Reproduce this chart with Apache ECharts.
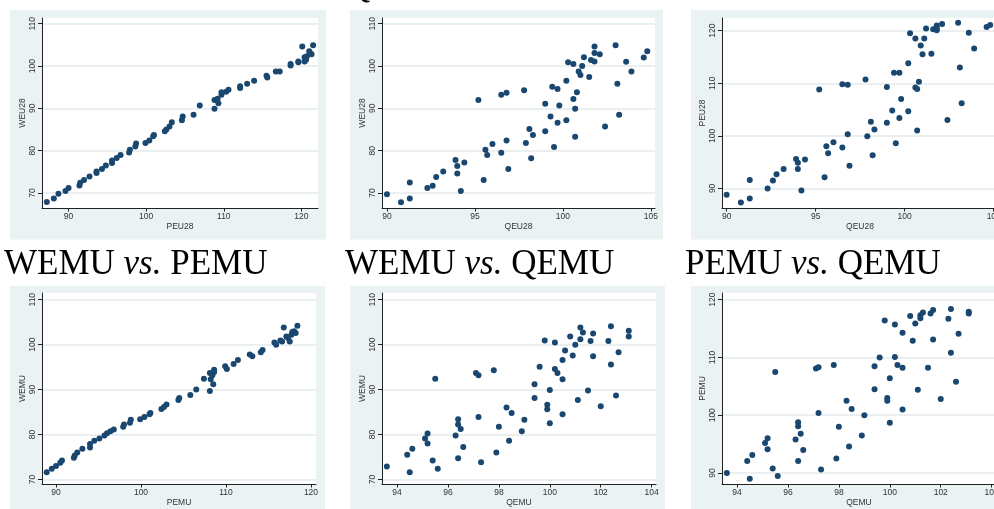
<!DOCTYPE html>
<html><head><meta charset="utf-8">
<script src="https://cdn.jsdelivr.net/npm/echarts@6/dist/echarts.min.js"></script>
<style>html,body{margin:0;padding:0;background:#fff}#c{width:994px;height:509px}</style>
</head><body><div id="c"></div>
<script>
// ---- data: [x, y] pairs ----
const weu28_vs_peu28 = [[87.2,67.9],[88.1,68.7],[88.7,69.8],[89.6,70.5],[90.0,71.2],[91.4,71.8],[91.5,72.4],[92.0,73.1],[92.7,73.9],[93.6,74.7],[93.6,75.1],[94.3,75.7],[94.8,76.5],[95.6,77.1],[95.6,77.7],[96.2,78.3],[96.7,79.0],[97.8,79.6],[97.9,80.2],[98.6,81.0],[98.7,81.7],[99.9,81.8],[100.4,82.4],[100.9,83.4],[101.0,83.7],[102.4,84.6],[102.6,85.0],[103.0,85.7],[103.3,86.7],[104.6,87.2],[104.7,88.1],[106.1,88.5],[106.9,90.7],[108.8,92.0],[109.2,92.3],[109.3,91.2],[108.8,89.9],[109.7,93.2],[109.7,93.8],[110.3,93.9],[110.6,94.4],[112.1,94.8],[112.1,95.2],[113.0,95.8],[113.9,96.5],[115.5,97.7],[115.6,97.3],[116.7,98.7],[117.2,98.7],[118.6,100.5],[118.6,100.1],[119.6,100.9],[119.6,101.1],[120.1,104.6],[120.4,101.1],[120.4,102.1],[120.6,101.5],[120.7,102.3],[121.0,103.5],[121.1,103.1],[121.3,102.8],[121.5,104.9]];
const weu28_vs_qeu28 = [[90.0,69.7],[90.8,67.8],[91.3,72.5],[91.3,68.7],[92.3,71.2],[92.6,71.7],[92.8,73.8],[93.2,75.1],[93.9,77.8],[94.0,76.4],[94.0,74.6],[94.4,77.2],[94.2,70.5],[95.2,92.0],[95.5,73.1],[95.6,80.2],[95.7,79.0],[96.0,81.6],[96.5,79.5],[96.5,93.2],[96.8,93.7],[96.8,82.4],[96.9,75.7],[97.8,94.3],[97.9,81.8],[98.1,85.1],[98.2,78.2],[98.3,83.7],[99.0,91.1],[99.0,84.6],[99.3,88.1],[99.4,95.1],[99.5,80.9],[99.7,94.6],[99.7,86.6],[99.8,90.7],[100.2,96.5],[100.2,87.2],[100.3,100.9],[100.6,100.5],[100.6,92.2],[100.7,89.9],[100.7,83.3],[100.8,93.8],[100.9,98.7],[101.0,97.9],[101.1,100.0],[101.2,102.1],[101.5,97.4],[101.6,101.4],[101.8,104.6],[101.8,103.1],[101.8,101.1],[102.1,102.8],[102.4,85.7],[103.0,104.9],[103.1,95.8],[103.2,88.5],[103.6,101.0],[103.9,98.7],[104.6,102.0],[104.8,103.5]];
const peu28_vs_qeu28 = [[90.0,88.8],[90.8,87.3],[91.3,91.6],[91.3,88.1],[92.3,90.0],[92.6,91.5],[92.8,92.7],[93.2,93.7],[93.9,95.6],[94.0,94.9],[94.0,93.7],[94.2,89.6],[94.4,95.5],[95.2,108.8],[95.5,92.1],[95.6,98.0],[95.7,96.7],[96.0,98.8],[96.5,109.8],[96.5,97.8],[96.8,109.7],[96.8,100.3],[96.9,94.3],[97.8,110.7],[97.9,99.9],[98.1,102.7],[98.2,96.3],[98.3,101.2],[99.0,109.3],[99.0,102.5],[99.3,104.8],[99.4,112.0],[99.5,98.6],[99.7,112.0],[99.7,103.4],[99.8,107.0],[100.2,113.8],[100.2,104.7],[100.3,119.5],[100.6,118.5],[100.6,109.2],[100.7,108.9],[100.7,101.0],[100.8,110.3],[100.9,117.2],[101.0,115.5],[101.1,118.5],[101.2,120.4],[101.5,115.6],[101.6,120.3],[101.8,121.0],[101.8,120.5],[101.8,120.1],[102.1,121.3],[102.4,103.0],[103.0,121.5],[103.1,113.0],[103.2,106.2],[103.6,119.6],[103.9,116.6],[104.6,120.7],[104.8,121.1]];
const wemu_vs_pemu = [[88.9,71.6],[89.5,72.4],[90.0,73.0],[90.5,73.7],[90.7,74.2],[92.1,74.8],[92.2,75.3],[92.5,76.0],[93.1,76.8],[94.0,77.1],[94.0,77.9],[94.5,78.6],[95.1,79.1],[95.7,79.8],[96.0,80.3],[96.4,80.7],[96.8,81.1],[97.9,81.7],[98.0,82.2],[98.7,82.6],[98.8,83.3],[99.9,83.4],[100.4,83.9],[101.0,84.5],[101.1,84.8],[102.4,85.7],[102.7,86.1],[103.0,86.7],[104.4,87.7],[104.5,88.1],[105.8,88.8],[106.5,90.0],[107.4,92.4],[108.1,93.7],[108.2,92.3],[108.4,93.2],[108.5,91.2],[108.1,89.7],[108.6,93.9],[108.6,94.4],[109.9,95.2],[110.1,94.6],[110.9,95.7],[111.4,96.6],[112.8,97.8],[113.1,97.4],[114.1,98.3],[114.3,98.8],[115.7,100.5],[115.9,100.0],[116.4,100.9],[116.6,100.7],[116.8,103.8],[117.1,101.8],[117.3,101.5],[117.5,100.7],[117.7,102.2],[117.8,102.8],[118.0,103.0],[118.2,102.6],[118.4,104.2]];
const wemu_vs_qemu = [[93.6,72.9],[94.4,75.5],[94.5,71.6],[94.6,76.8],[95.1,79.1],[95.2,80.2],[95.2,78.0],[95.4,74.2],[95.5,92.4],[95.6,72.4],[96.3,79.8],[96.4,83.4],[96.4,82.2],[96.4,74.7],[96.5,81.2],[96.6,77.2],[97.1,93.7],[97.2,93.2],[97.2,83.9],[97.3,73.8],[97.8,94.3],[97.9,76.0],[98.0,81.7],[98.3,86.0],[98.4,78.6],[98.5,84.8],[99.0,83.3],[98.9,80.7],[99.4,91.2],[99.4,88.1],[99.6,95.1],[99.8,100.9],[99.9,86.6],[99.9,85.6],[100.0,89.9],[100.0,82.5],[100.2,100.5],[100.2,94.6],[100.3,93.7],[100.5,96.6],[100.5,92.3],[100.5,84.5],[100.6,98.7],[100.8,101.8],[100.9,97.6],[101.0,100.0],[101.1,87.7],[101.2,103.8],[101.2,101.2],[101.3,102.7],[101.5,89.8],[101.6,100.8],[101.7,102.5],[101.7,97.4],[102.0,86.3],[102.3,100.8],[102.4,104.1],[102.4,95.6],[102.6,88.7],[102.7,98.3],[103.1,103.1],[103.1,101.8]];
const pemu_vs_qemu = [[93.6,90.0],[94.4,92.1],[94.5,89.0],[94.6,93.1],[95.1,95.2],[95.2,96.0],[95.2,94.1],[95.4,90.8],[95.5,107.5],[95.6,89.5],[96.3,95.8],[96.4,98.8],[96.4,98.1],[96.4,92.1],[96.5,96.8],[96.6,94.0],[97.1,108.1],[97.2,108.3],[97.2,100.4],[97.3,90.6],[97.8,108.7],[97.9,92.5],[98.0,98.0],[98.3,102.5],[98.4,94.6],[98.5,101.1],[99.0,100.0],[98.9,96.5],[99.4,108.5],[99.4,104.5],[99.6,110.0],[99.8,116.4],[99.9,103.0],[99.9,102.5],[100.0,106.4],[100.0,98.7],[100.2,115.7],[100.2,110.1],[100.3,108.7],[100.5,114.3],[100.5,108.2],[100.5,101.0],[100.8,117.2],[100.9,112.9],[101.0,115.9],[101.1,104.4],[101.2,117.3],[101.2,116.8],[101.3,117.8],[101.5,108.2],[101.6,117.6],[101.7,118.2],[101.7,113.1],[102.0,102.8],[102.3,116.7],[102.4,118.4],[102.4,110.8],[102.6,105.8],[102.7,114.1],[103.1,117.9],[103.1,117.6]];

// tick labels
const ticksP_top = [90,100,110,120];
const ticksQ_top = [90,95,100,105];
const ticksW = [70,80,90,100,110];
const ticksP_topY = [90,100,110,120];
const ticksP_bot = [90,100,110,120];
const ticksQ_bot = [94,96,98,100,102,104];
const ticksP_botY = [90,100,110,120];

// titles
const titles = [
  {pre:'WEMU ', mid:'vs.', post:' PEMU'},
  {pre:'WEMU ', mid:'vs.', post:' QEMU'},
  {pre:'PEMU ', mid:'vs.', post:' QEMU'}
];

const panels = [
  {data:weu28_vs_peu28, xName:'PEU28', yName:'WEU28', xt:ticksP_top, yt:ticksW, xr:[86.58,122.13], yr:[66.46,111.35], g:{left:42, top:18, width:276, height:190}},
  {data:weu28_vs_qeu28, xName:'QEU28', yName:'WEU28', xt:ticksQ_top, yt:ticksW, xr:[89.72,105.24], yr:[66.46,111.35], g:{left:382, top:18, width:273, height:190}},
  {data:peu28_vs_qeu28, xName:'QEU28', yName:'PEU28', xt:ticksQ_top, yt:ticksP_topY, xr:[89.74,105.24], yr:[86.27,122.42], g:{left:722, top:18, width:276, height:190}},
  {data:wemu_vs_pemu, xName:'PEMU', yName:'WEMU', xt:ticksP_bot, yt:ticksW, xr:[88.35,120.59], yr:[68.98,111.49], g:{left:42, top:293, width:274, height:191}},
  {data:wemu_vs_qemu, xName:'QEMU', yName:'WEMU', xt:ticksQ_bot, yt:ticksW, xr:[93.41,104.17], yr:[68.98,111.49], g:{left:382, top:293, width:274, height:191}},
  {data:pemu_vs_qemu, xName:'QEMU', yName:'PEMU', xt:ticksQ_bot, yt:ticksP_botY, xr:[93.41,104.17], yr:[88.1,121.16], g:{left:722, top:293, width:274, height:191}}
];

const BG = '#eaf2f3', GRID = '#e3eaec', AX = '#222', MK = '#1a476f';
const labelFont = {fontFamily:'Liberation Sans', fontSize:8.5, color:'#333'};

const grid = [], xAxis = [], yAxis = [], series = [];
panels.forEach((p, i) => {
  grid.push(Object.assign({show:true, backgroundColor:'#fff', borderWidth:0, containLabel:false, outerBoundsMode:'none'}, p.g));
  xAxis.push({
    type:'value', gridIndex:i, min:p.xr[0], max:p.xr[1],
    name:p.xName, nameLocation:'middle', nameGap:13,
    nameTextStyle:{fontFamily:'Liberation Sans', fontSize:8.5, color:'#333'},
    axisLine:{show:true, onZero:false, lineStyle:{color:AX, width:1}},
    axisTick:{show:true, length:3.5, customValues:p.xt, lineStyle:{color:AX}},
    axisLabel:Object.assign({customValues:p.xt, margin:4, showMinLabel:true, showMaxLabel:true}, labelFont),
    splitLine:{show:false}
  });
  yAxis.push({
    type:'value', gridIndex:i, min:p.yr[0], max:p.yr[1],
    name:p.yName, nameLocation:'middle', nameGap:11, nameRotate:90,
    nameTextStyle:{fontFamily:'Liberation Sans', fontSize:8.5, color:'#333'},
    axisLine:{show:true, onZero:false, lineStyle:{color:AX, width:1}},
    axisTick:{show:true, length:4, customValues:p.yt, lineStyle:{color:AX}},
    axisLabel:Object.assign({customValues:p.yt, margin:5, rotate:90}, labelFont),
    splitLine:{show:true, lineStyle:{color:GRID, width:1.5}}
  });
  series.push({
    type:'scatter', xAxisIndex:i, yAxisIndex:i, data:p.data,
    symbol:'circle', symbolSize:6, itemStyle:{color:MK, opacity:1}, silent:true
  });
});

const bgRects = [
  [10,10,316,229.5],[350,10,313,229.5],[691,10,320,229.5],
  [10,286,315,240],[350.5,286,314.5,240],[691,286,320,240]
];
const graphic = bgRects.map(r => ({type:'rect', z:-10, shape:{x:r[0], y:r[1], width:r[2], height:r[3]}, style:{fill:BG}}));

const titleX = [4, 345, 685];
const rich = {
  n:{fontFamily:'Liberation Serif', fontSize:35, color:'#111'},
  i:{fontFamily:'Liberation Serif', fontSize:35, fontStyle:'italic', color:'#111'}
};
titles.forEach((t, k) => {
  graphic.push({type:'text', z:50, x:titleX[k], y:265,
    style:{text:'{n|'+t.pre+'}{i|'+t.mid+'}{n|'+t.post+'}', rich:rich, align:'left', verticalAlign:'middle'}});
});
// top-row title, almost entirely above the visible area
graphic.push({type:'text', z:50, x:345, y:-12,
  style:{text:'{n|QEU28}', rich:rich, align:'left', verticalAlign:'middle'}});

const chart = echarts.init(document.getElementById('c'), null, {renderer:'canvas'});
chart.setOption({
  backgroundColor:'#ffffff',
  animation:false,
  grid, xAxis, yAxis, series, graphic
});
</script></body></html>
